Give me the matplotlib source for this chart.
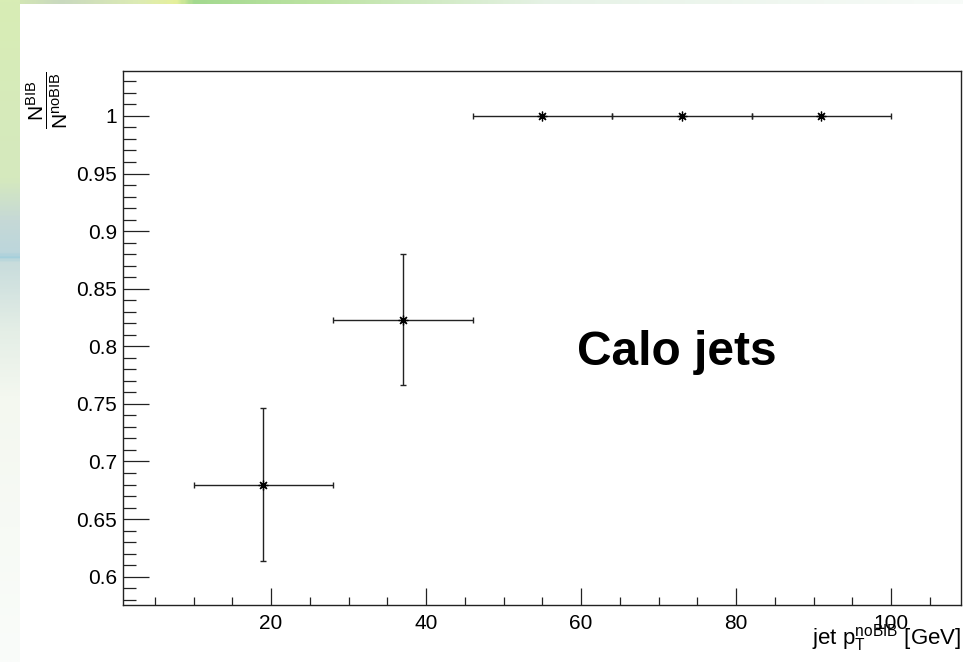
import matplotlib
matplotlib.use("Agg")
import matplotlib.pyplot as plt
import numpy as np
from matplotlib.ticker import MultipleLocator, FuncFormatter
from matplotlib.colors import LinearSegmentedColormap

# bin edges (GeV) and ratio N_BIB / N_noBIB with errors
bin_lo = [10, 28, 46, 64, 82]
bin_hi = [28, 46, 64, 82, 100]
ratio = [0.680, 0.823, 1.0, 1.0, 1.0]
ratio_err = [0.066, 0.057, 0.0, 0.0, 0.0]

plt.rcParams['font.family'] = ['Liberation Sans', 'DejaVu Sans']
plt.rcParams['mathtext.fontset'] = 'custom'
plt.rcParams['mathtext.rm'] = 'Liberation Sans'
plt.rcParams['mathtext.it'] = 'Liberation Sans:italic'
plt.rcParams['mathtext.bf'] = 'Liberation Sans:bold'

W, H = 963, 662
fig = plt.figure(figsize=(W/100, H/100), dpi=100, facecolor='white')

# slide background strips (top and left)
def strip(pos, stops, horizontal):
    cmap = LinearSegmentedColormap.from_list('bg', stops)
    bg = fig.add_axes(pos, zorder=-10)
    g = np.linspace(0, 1, 400)
    img = g[None, :] if horizontal else g[:, None]
    bg.imshow(img, cmap=cmap, aspect='auto', interpolation='bilinear')
    bg.axis('off')

strip([0, 1-4/H, 1, 4/H],
      [(0.0, '#d6ebb0'), (0.06, '#c9d9bf'), (0.14, '#dcebb5'), (0.18, '#e6f09c'),
       (0.20, '#a3d98f'), (0.33, '#bde3a3'), (0.57, '#e6f2e6'), (1.0, '#f7fbf8')], True)
strip([0, 0, 19/W, 1],
      [(0.0, '#d8edb5'), (0.27, '#d5e9be'), (0.33, '#c6d9d6'), (0.382, '#bcd6dc'),
       (0.388, '#a0cedb'), (0.394, '#c8dcdc'), (0.50, '#e4eee6'), (0.60, '#f4f8f0'),
       (1.0, '#fafcfa')], False)

ax = fig.add_axes([123/W, 1-605/H, (961-123)/W, (605-71)/H])

x = [(a+b)/2 for a, b in zip(bin_lo, bin_hi)]
xerr = [(b-a)/2 for a, b in zip(bin_lo, bin_hi)]

ax.errorbar(x, ratio, xerr=xerr, yerr=ratio_err, fmt='none', ecolor='#222222',
            elinewidth=1.0, capsize=2.5, capthick=1.0)
ax.plot(x, ratio, ls='none', marker=(8, 2, 0), ms=7, mew=0.9, color='black')

ax.set_xlim(0.9, 109)
ax.set_ylim(0.5754, 1.039)

ax.xaxis.set_major_locator(MultipleLocator(20))
ax.xaxis.set_minor_locator(MultipleLocator(5))
ax.yaxis.set_major_locator(MultipleLocator(0.05))
ax.yaxis.set_minor_locator(MultipleLocator(0.01))
ax.yaxis.set_major_formatter(FuncFormatter(lambda v, p: '%g' % round(v, 3)))

ax.tick_params(axis='both', which='both', direction='in', top=False, right=False,
               color='#222222', width=0.9, labelsize=15)
ax.tick_params(axis='y', which='major', length=18.7, pad=4.3)
ax.tick_params(axis='y', which='minor', length=9.4)
ax.tick_params(axis='x', which='major', length=12.2, pad=6.5)
ax.tick_params(axis='x', which='minor', length=6)
for s in ax.spines.values():
    s.set_linewidth(1.0)
    s.set_color('#222222')

ax.text(59.5, 0.7838, 'Calo jets', fontsize=34.5, fontweight='bold', ha='left', va='baseline')

fig.text(961/W, 1-645/H, r'jet $\mathrm{p}_{\mathrm{T}}^{\mathrm{noBIB}}$ [GeV]',
         fontsize=16, ha='right', va='baseline')
fig.text(47/W, 1-71/H, r'$\dfrac{\mathrm{N}^{\mathrm{BIB}}}{\mathrm{N}^{\mathrm{noBIB}}}$',
         fontsize=15, rotation=90, ha='center', va='top')

fig.savefig('out.png', dpi=100)
